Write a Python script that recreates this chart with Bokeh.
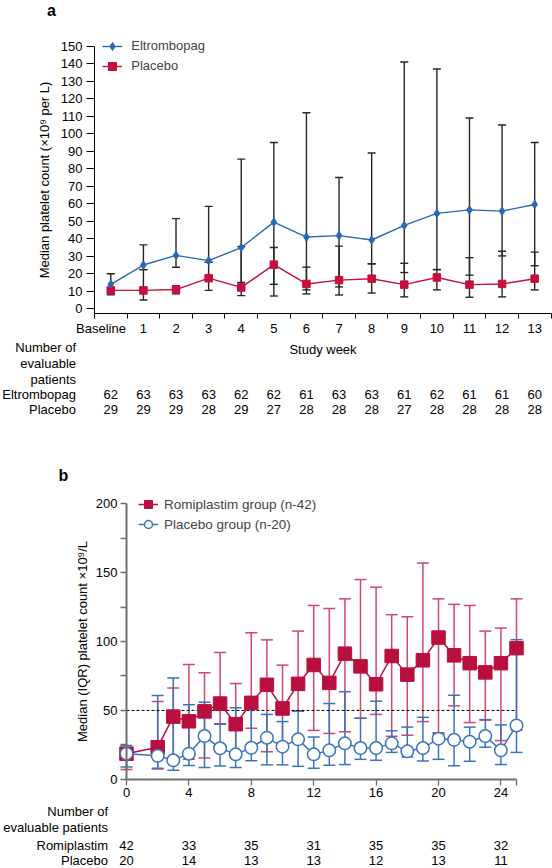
from bokeh.plotting import figure
from bokeh.models import (Range1d, FixedTicker, Whisker, TeeHead, ColumnDataSource,
                          Legend, LegendItem)
from bokeh.layouts import column
from bokeh.core.properties import value
from bokeh.embed import file_html
from bokeh.resources import INLINE

FONT = "Liberation Sans"

# ---------------- Panel a data ----------------
weeks_a = list(range(14))
week_labels_a = ["Baseline", "1", "2", "3", "4", "5", "6", "7", "8", "9", "10", "11", "12", "13"]
elt_median = [14, 25, 30.5, 27.5, 35, 49.5, 41, 41.8, 39.3, 47.6, 54.5, 56.5, 55.8, 59.6]
elt_q1 = [10, 22.4, 23.7, 26.5, 15, 14, 10.8, 12.5, 25.7, 20.7, 22.4, 19.2, 30.2, 24.6]
elt_q3 = [20, 36.5, 51.5, 58.5, 85.5, 95, 112, 75, 89, 141, 137, 109, 105, 95]
pla_median = [10.5, 10.5, 11, 17.5, 12.2, 25.2, 14.2, 16.4, 17.2, 13.8, 17.9, 13.8, 14.2, 17.2]
pla_q1 = [8, 5, 8.6, 10.5, 7.5, 7.3, 8.5, 7.9, 9, 6.8, 10.8, 6.6, 6.8, 10.8]
pla_q3 = [12, 22.4, 13, 26.5, 35.5, 35, 23.8, 35.8, 25.7, 26, 22.4, 29.2, 32.9, 32.4]
elt_n = [62, 63, 63, 63, 62, 62, 61, 63, 63, 61, 62, 61, 61, 60]
pla_n_a = [29, 29, 29, 28, 29, 27, 28, 28, 28, 27, 28, 28, 28, 28]
y_ticks_a = list(range(0, 151, 10))
table_heads_a = ["Number of", "evaluable", "patients", "Eltrombopag", "Placebo"]

# ---------------- Panel b data ----------------
weeks_b = [0, 2, 3, 4, 5, 6, 7, 8, 9, 10, 11, 12, 13, 14, 15, 16, 17, 18, 19, 20, 21, 22, 23, 24, 25]
rom_median = [18.6, 23.3, 45.5, 42.1, 49.3, 55, 40, 55.5, 68.6, 51.4, 69.3, 83, 70, 91.2, 82, 69,
              89.5, 76, 86.4, 102.9, 90, 84.3, 77.6, 84.3, 95.2]
rom_q1 = [7.2, 7.5, 14, 14.5, 15.5, 40, 18, 37, 20, 26.6, 49.5, 35.5, 33.3, 34.5, 44.3, 47.1,
          31.2, 32, 41.9, 33.8, 53.3, 41.2, 43, 28.1, 35.7]
rom_q3 = [22, 56.4, 66.2, 83.3, 77.4, 92, 69.5, 106.4, 101.2, 82.9, 107.6, 126.2, 124, 131, 145,
          139.5, 119.5, 118, 157, 131, 127, 126.2, 107.6, 109.8, 131]
plb_median = [18.6, 17.1, 13.8, 18.6, 31.4, 22.5, 18.1, 22.9, 30.2, 23.7, 29, 18.1, 21, 26.1,
              22.7, 22.7, 26.1, 20.3, 22.7, 29.5, 28.7, 27.3, 31.4, 21, 39.1]
plb_q1 = [9, 8, 6.5, 10, 8.5, 9.7, 8.5, 13.5, 10.5, 10.5, 9.4, 8, 10.2, 10.7, 14.5, 13.8, 19.5,
          16.2, 13.3, 14.5, 9.8, 13.1, 23.3, 10.7, 19.5]
plb_q3 = [24.5, 60.9, 73.6, 54.1, 56, 40.4, 52, 51.7, 47.1, 41.9, 49.5, 30.7, 55, 63.6, 44.3,
          56.7, 35.2, 37.9, 45, 33, 61, 37.9, 43.3, 39.5, 101.4]
table_weeks_b = [0, 4, 8, 12, 16, 20, 24]
rom_n = [42, 33, 35, 31, 35, 35, 32]
plb_n = [20, 14, 13, 13, 12, 13, 11]
threshold_b = 50
y_ticks_b = [0, 50, 100, 150, 200]
y_minor_b = [25, 75, 125, 175]
x_ticks_b = [0, 4, 8, 12, 16, 20, 24]
table_heads_b = ["Number of", "evaluable patients", "Romiplastim", "Placebo"]

# ---------------- colours / layout constants ----------------
BLUE_A = "#2B68B3"
RED_A = "#C50F3C"
RED_B = "#B80F3F"
RED_B_BAR = "#CF476F"
BLUE_B = "#3A74BE"
GREY_AX = "#6E6E6E"
W = 552
HA, HB = 420, 448

# panel a pixel geometry (canvas px from top-left)
A_XLO_PX, A_XHI_PX = 94.0, 550.5      # axis ends
A_Y0_PX, A_Y150_PX = 308.3, 45.7
A_AXIS_Y = -2.5                      # x-axis sits slightly below zero
A_ROWS_PX = [346.5, 363, 379, 393.5, 409]
A_HEAD_RIGHT_PX = 75.5
A_TITLE_PX = (51, 10)
BASELINE_LABEL_POS = -0.3            # "Baseline" label sits left of its column

# panel b pixel geometry (canvas px from top-left)
B_X0_PX, B_X25_PX = 126.0, 516.0
B_Y0_PX, B_Y200_PX = 358.8, 83.3
B_ROWS_PX = [391, 407, 425, 440]
B_HEAD_RIGHT_PX = 107.5
B_TITLE_PX = (63, 55)


def make_fig(h, xr, yr):
    p = figure(width=W, height=h, x_range=Range1d(*xr), y_range=Range1d(*yr),
               min_border_left=0, min_border_right=0, min_border_top=0, min_border_bottom=0,
               output_backend="svg", toolbar_location=None)
    p.outline_line_color = None
    p.xgrid.visible = False
    p.ygrid.visible = False
    p.background_fill_color = "white"
    p.border_fill_color = "white"
    for ax in (p.xaxis[0], p.yaxis[0]):
        ax.major_label_text_font = FONT
        ax.major_label_text_font_size = "13px"
        ax.major_label_text_color = "black"
        ax.axis_label_text_font = FONT
        ax.axis_label_text_font_size = "13px"
        ax.axis_label_text_font_style = "normal"
        ax.axis_label_text_color = "black"
    return p


def text_rows(p, xs, ys, texts, align, size="13px", style="normal"):
    p.text(x=xs, y=ys, text=texts, text_font=value(FONT), text_font_size=value(size),
           text_font_style=style, text_align=align, text_baseline="middle", text_color="black")


# ================= Panel a =================
kxa = (A_XHI_PX - A_XLO_PX) / (weeks_a[-1] + 1)
xa0 = weeks_a[0] - 0.5 - A_XLO_PX / kxa
kya = (A_Y0_PX - A_Y150_PX) / y_ticks_a[-1]
ya1 = A_Y0_PX / kya
xa = lambda px: xa0 + px / kxa
ya = lambda py: ya1 - py / kya

pa = make_fig(HA, (xa0, xa0 + W / kxa), (ya1 - HA / kya, ya1))

src_a = ColumnDataSource(dict(x=weeks_a, elt_med=elt_median, elt_lo=elt_q1, elt_hi=elt_q3,
                              pla_med=pla_median, pla_lo=pla_q1, pla_hi=pla_q3))
for lo, hi in (("elt_lo", "elt_hi"), ("pla_lo", "pla_hi")):
    pa.add_layout(Whisker(source=src_a, base="x", lower=lo, upper=hi, line_color="#262626",
                          line_width=1.4,
                          upper_head=TeeHead(size=8, line_color="#262626", line_width=1.4),
                          lower_head=TeeHead(size=8, line_color="#262626", line_width=1.4)))

pla_line = pa.line("x", "pla_med", source=src_a, line_color=RED_A, line_width=1.4)
pla_pts = pa.scatter("x", "pla_med", source=src_a, marker="square", size=7.5,
                     fill_color=RED_A, line_color=RED_A)
elt_line = pa.line("x", "elt_med", source=src_a, line_color=BLUE_A, line_width=1.4)
elt_pts = pa.scatter("x", "elt_med", source=src_a, marker="diamond", size=8.5,
                     fill_color=BLUE_A, line_color=BLUE_A)

ay_ = pa.yaxis[0]
ay_.fixed_location = weeks_a[0] - 0.5
ay_.bounds = (A_AXIS_Y, y_ticks_a[-1])
ay_.ticker = FixedTicker(ticks=y_ticks_a)
ay_.axis_label = "Median platelet count (\u00d710\u2079 per L)"
ay_.axis_line_color = "black"
ay_.major_tick_line_color = "black"
ay_.major_tick_out = 8
ay_.major_tick_in = 0
ay_.minor_tick_line_color = None
ay_.major_label_standoff = 4
ay_.axis_label_standoff = 6

label_pos_a = [BASELINE_LABEL_POS] + weeks_a[1:]
ax_ = pa.xaxis[0]
ax_.fixed_location = A_AXIS_Y
ax_.bounds = (weeks_a[0] - 0.5, weeks_a[-1] + 0.5)
ax_.ticker = FixedTicker(ticks=label_pos_a,
                         minor_ticks=[w - 0.5 for w in weeks_a] + [weeks_a[-1] + 0.5])
ax_.major_label_overrides = {w: lab for w, lab in zip(label_pos_a, week_labels_a)}
ax_.axis_line_color = "black"
ax_.major_tick_line_color = None
ax_.major_tick_out = 4
ax_.major_tick_in = 0
ax_.minor_tick_line_color = "black"
ax_.minor_tick_out = 5
ax_.minor_tick_in = 0
ax_.major_label_standoff = 3
ax_.axis_label = "Study week"
ax_.axis_label_standoff = 2

leg_a = Legend(items=[LegendItem(label="Eltrombopag", renderers=[elt_line, elt_pts]),
                      LegendItem(label="Placebo", renderers=[pla_line, pla_pts])],
               location=(102.3, HA - (A_Y150_PX - 10) - 40), margin=0, padding=0, spacing=0,
               glyph_width=20, glyph_height=20, label_height=20, label_standoff=9,
               label_text_font=FONT, label_text_font_size="13px",
               border_line_color=None, background_fill_alpha=0)
pa.add_layout(leg_a)

# title "a"
text_rows(pa, [xa(A_TITLE_PX[0])], [ya(A_TITLE_PX[1])], ["a"], "center", "16px", "bold")
# table a
text_rows(pa, [xa(A_HEAD_RIGHT_PX)] * 5, [ya(v) for v in A_ROWS_PX], table_heads_a, "right")
text_rows(pa, weeks_a, [ya(A_ROWS_PX[3])] * len(weeks_a), [str(v) for v in elt_n], "center")
text_rows(pa, weeks_a, [ya(A_ROWS_PX[4])] * len(weeks_a), [str(v) for v in pla_n_a], "center")

# ================= Panel b =================
kxb = (B_X25_PX - B_X0_PX) / weeks_b[-1]
xb0 = -B_X0_PX / kxb
kyb = (B_Y0_PX - B_Y200_PX) / y_ticks_b[-1]
yb1 = B_Y0_PX / kyb
xb = lambda px: xb0 + px / kxb
yb = lambda py: yb1 - py / kyb

pb = make_fig(HB, (xb0, xb0 + W / kxb), (yb1 - HB / kyb, yb1))

src_b = ColumnDataSource(dict(x=weeks_b, rom_med=rom_median, rom_lo=rom_q1, rom_hi=rom_q3,
                              plb_med=plb_median, plb_lo=plb_q1, plb_hi=plb_q3))
for lo, hi, col in (("rom_lo", "rom_hi", RED_B_BAR), ("plb_lo", "plb_hi", BLUE_B)):
    pb.add_layout(Whisker(source=src_b, base="x", lower=lo, upper=hi, line_color=col,
                          line_width=1.5,
                          upper_head=TeeHead(size=12, line_color=col, line_width=1.5),
                          lower_head=TeeHead(size=12, line_color=col, line_width=1.5)))

pb.line([weeks_b[0], weeks_b[-1]], [threshold_b, threshold_b], line_color="black",
        line_width=1, line_dash="3 2")

rom_line = pb.line("x", "rom_med", source=src_b, line_color=RED_B, line_width=1.5)
rom_pts = pb.scatter("x", "rom_med", source=src_b, marker="square", size=13.5,
                     fill_color=RED_B, line_color=RED_B)
plb_line = pb.line("x", "plb_med", source=src_b, line_color=BLUE_B, line_width=1.5)
plb_pts = pb.scatter("x", "plb_med", source=src_b, marker="circle", size=12.5,
                     fill_color="white", line_color=BLUE_B, line_width=1.5)

by_ = pb.yaxis[0]
by_.fixed_location = weeks_b[0]
by_.bounds = (y_ticks_b[0], y_ticks_b[-1])
by_.ticker = FixedTicker(ticks=y_ticks_b, minor_ticks=y_minor_b)
by_.axis_label = "Median (IQR) platelet count \u00d710\u2079/L"
by_.axis_line_color = GREY_AX
by_.axis_line_width = 2
by_.major_tick_line_color = GREY_AX
by_.major_tick_line_width = 1.3
by_.major_tick_out = 6
by_.major_tick_in = 0
by_.minor_tick_line_color = GREY_AX
by_.minor_tick_line_width = 1.3
by_.minor_tick_out = 6
by_.minor_tick_in = 0
by_.major_label_standoff = 3
by_.axis_label_standoff = 3

bx_ = pb.xaxis[0]
bx_.fixed_location = y_ticks_b[0]
bx_.bounds = (weeks_b[0], weeks_b[-1])
bx_.ticker = FixedTicker(ticks=x_ticks_b, minor_ticks=[weeks_b[-1]])
bx_.axis_line_color = GREY_AX
bx_.axis_line_width = 2
bx_.major_tick_line_color = GREY_AX
bx_.major_tick_line_width = 1.3
bx_.major_tick_out = 6
bx_.major_tick_in = 0
bx_.minor_tick_line_color = GREY_AX
bx_.minor_tick_line_width = 1.3
bx_.minor_tick_out = 6
bx_.minor_tick_in = 0
bx_.major_label_standoff = 3

leg_b = Legend(items=[LegendItem(label="Romiplastim group (n-42)", renderers=[rom_line, rom_pts]),
                      LegendItem(label="Placebo group (n-20)", renderers=[plb_line, plb_pts])],
               location=(138, HB - (B_Y200_PX + 0.7 - 10) - 40), margin=0, padding=0, spacing=0,
               glyph_width=20, glyph_height=20, label_height=20, label_standoff=6,
               label_text_font=FONT, label_text_font_size="13.5px",
               border_line_color=None, background_fill_alpha=0)
pb.add_layout(leg_b)

text_rows(pb, [xb(B_TITLE_PX[0])], [yb(B_TITLE_PX[1])], ["b"], "center", "16px", "bold")
text_rows(pb, [xb(B_HEAD_RIGHT_PX)] * 4, [yb(v) for v in B_ROWS_PX], table_heads_b, "right")
text_rows(pb, table_weeks_b, [yb(B_ROWS_PX[2])] * len(table_weeks_b), [str(v) for v in rom_n], "center")
text_rows(pb, table_weeks_b, [yb(B_ROWS_PX[3])] * len(table_weeks_b), [str(v) for v in plb_n], "center")

layout = column(pa, pb, spacing=0)
open("out.html", "w").write(file_html(layout, INLINE))
